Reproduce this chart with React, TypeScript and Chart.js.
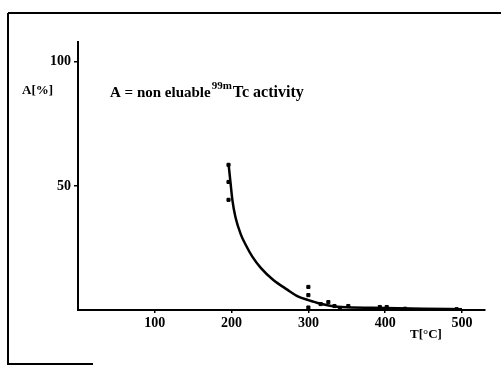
import React, { useEffect, useRef } from "react";
import { Chart, registerables } from "chart.js";

Chart.register(...registerables);

// Fitted curve: temperature (°C) and non-eluable activity (%)
const curveT = [196, 198.7, 201, 205, 212, 218, 227, 238, 254, 273, 287, 300, 315, 330, 350, 400, 450, 500];
const curveA = [59, 51, 44.4, 37.5, 30.5, 26.5, 21.5, 17, 12.2, 8.1, 5.4, 4.0, 2.6, 1.6, 1.1, 0.8, 0.5, 0.3];

// Measured points
const pointT = [196, 196, 196, 300, 300, 300, 316, 326, 334, 341, 352, 393, 402, 426, 493];
const pointA = [58.5, 51.6, 44.4, 9.3, 6, 1, 2.4, 3.2, 1.6, 0.8, 1.6, 1.2, 1.2, 0.5, 0.3];

const xTicks = [100, 200, 300, 400, 500];
const yTicks = [50, 100];

const FONT = "'Liberation Serif', 'Times New Roman', serif";

const overlay = {
  id: "overlay",
  beforeDraw(chart: any) {
    const ctx = chart.ctx;
    ctx.save();
    ctx.fillStyle = "#ffffff";
    ctx.fillRect(0, 0, chart.width, chart.height);
    ctx.strokeStyle = "#000";
    ctx.lineWidth = 2;
    ctx.beginPath();
    ctx.moveTo(8, 13);
    ctx.lineTo(chart.width, 13);
    ctx.moveTo(8, 13);
    ctx.lineTo(8, 364);
    ctx.lineTo(93, 364);
    ctx.stroke();
    ctx.restore();
  },
  afterDraw(chart: any) {
    const ctx = chart.ctx;
    ctx.save();
    ctx.fillStyle = "#000";
    ctx.textBaseline = "alphabetic";
    ctx.font = `bold 13px ${FONT}`;
    ctx.fillText("A[%]", 22, 94);
    ctx.fillText("T[°C]", 410, 338);
    const base = 97;
    let x = 110;
    ctx.font = `bold 15px ${FONT}`;
    const s1 = "A = non eluable";
    ctx.fillText(s1, x, base);
    x += ctx.measureText(s1).width + 1;
    ctx.font = `bold 11px ${FONT}`;
    const sup = "99m";
    ctx.fillText(sup, x, base - 8);
    x += ctx.measureText(sup).width + 1;
    ctx.font = `bold 16px ${FONT}`;
    ctx.fillText("Tc activity", x, base);
    ctx.restore();
  },
};

export default function App() {
  const ref = useRef<HTMLCanvasElement>(null);
  useEffect(() => {
    if (!ref.current) return;
    const chart = new Chart(ref.current, {
      type: "scatter",
      data: {
        datasets: [
          {
            type: "line",
            data: curveT.map((t, i) => ({ x: t, y: curveA[i] })),
            borderColor: "#000",
            borderWidth: 2.5,
            pointRadius: 0,
            cubicInterpolationMode: "monotone",
            fill: false,
          } as any,
          {
            type: "scatter",
            data: pointT.map((t, i) => ({ x: t, y: pointA[i] })),
            backgroundColor: "#000",
            borderColor: "#000",
            pointStyle: "rect",
            pointRadius: 2.2,
          },
        ],
      },
      options: {
        animation: false,
        responsive: false,
        devicePixelRatio: 1,
        layout: { padding: { left: 0, right: 16, top: 42, bottom: 0 } },
        plugins: { legend: { display: false }, tooltip: { enabled: false } },
        scales: {
          x: {
            type: "linear",
            min: 0,
            max: 530,
            afterFit: (s: any) => {
              s.height = 56;
            },
            afterBuildTicks: (s: any) => {
              s.ticks = xTicks.map((v) => ({ value: v }));
            },
            border: { display: true, color: "#000", width: 2 },
            grid: { display: true, drawOnChartArea: false, drawTicks: true, tickLength: 3, color: "#000", lineWidth: 1.5 },
            ticks: { color: "#000", padding: 2, font: { family: FONT, size: 14, weight: "bold" } },
          },
          y: {
            type: "linear",
            min: 0,
            max: 108,
            afterFit: (s: any) => {
              s.width = 78;
            },
            afterBuildTicks: (s: any) => {
              s.ticks = yTicks.map((v) => ({ value: v }));
            },
            border: { display: true, color: "#000", width: 2 },
            grid: { display: true, drawOnChartArea: false, drawTicks: true, tickLength: 4, color: "#000", lineWidth: 1.5 },
            ticks: { color: "#000", padding: 3, font: { family: FONT, size: 14, weight: "bold" } },
          },
        },
      },
      plugins: [overlay],
    });
    return () => chart.destroy();
  }, []);
  return (
    <div style={{ position: "fixed", left: 0, top: 0, width: 501, height: 366, background: "#fff" }}>
      <canvas ref={ref} width={501} height={366} style={{ display: "block", width: 501, height: 366 }} />
    </div>
  );
}
